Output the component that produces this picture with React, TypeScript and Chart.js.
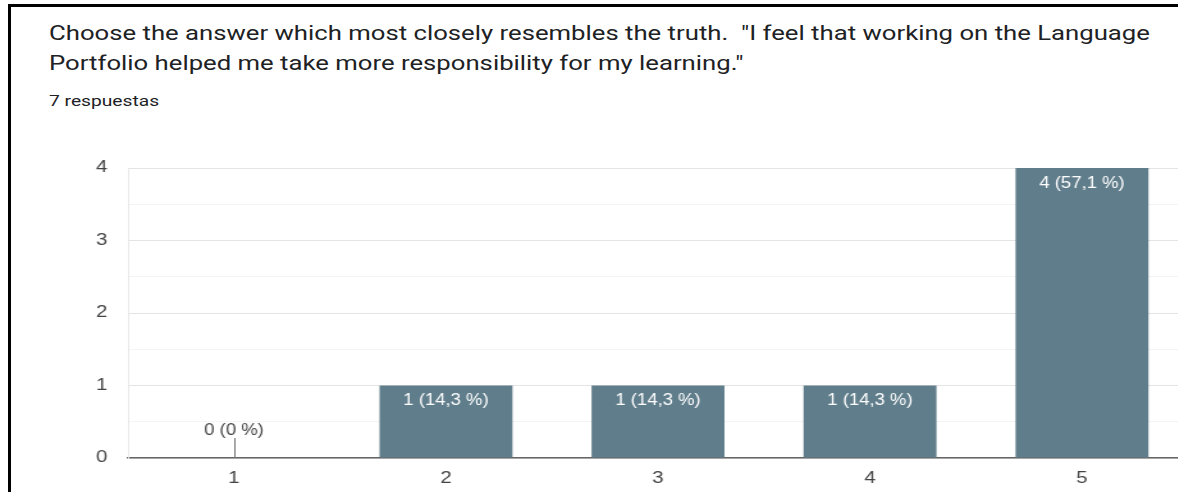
import React, { useEffect, useRef } from "react";
import { Chart, registerables } from "chart.js";

Chart.register(...registerables);

const titleLines = [
  'Choose the answer which most closely resembles the truth.  "I feel that working on the Language',
  'Portfolio helped me take more responsibility for my learning."',
];
const subtitle = "7 respuestas";
const categories = ["1", "2", "3", "4", "5"];
const counts = [0, 1, 1, 1, 4];
const percentLabels = ["0 %", "14,3 %", "14,3 %", "14,3 %", "57,1 %"];
const yTicks = [0, 1, 2, 3, 4];

const BAR = "#607d8b";
const K = 1.28; // horizontal stretch of the reference screenshot (chart)
const KT = 1.224; // horizontal stretch for the title
const KL = 0.85; // label compression inside the stretched canvas
const W = 1200;

const labelPlugin = {
  id: "barLabels",
  afterDatasetsDraw(chart: any) {
    const ctx = chart.ctx;
    const meta = chart.getDatasetMeta(0);
    ctx.save();
    ctx.font = '17px "Liberation Sans", Arial, sans-serif';
    ctx.textAlign = "center";
    ctx.textBaseline = "middle";
    const put = (text: string, x: number, y: number) => {
      ctx.save();
      ctx.translate(x, y);
      ctx.scale(KL, 1);
      ctx.fillText(text, 0, 0);
      ctx.restore();
    };
    meta.data.forEach((bar: any, i: number) => {
      const v = counts[i];
      const text = `${v} (${percentLabels[i]})`;
      if (v > 0) {
        ctx.fillStyle = "#ffffff";
        put(text, bar.x, bar.y + 15);
      } else {
        const base = chart.scales.y.getPixelForValue(0);
        ctx.strokeStyle = "#777";
        ctx.lineWidth = 1;
        ctx.beginPath();
        ctx.moveTo(Math.round(bar.x) + 0.5, base);
        ctx.lineTo(Math.round(bar.x) + 0.5, base - 20);
        ctx.stroke();
        ctx.fillStyle = "#444";
        put(text, bar.x, base - 28);
      }
    });
    ctx.restore();
  },
};

export default function App() {
  const ref = useRef<HTMLCanvasElement>(null);
  const innerW = Math.round(W / K);
  useEffect(() => {
    document.body.style.margin = "0";
    document.body.style.overflow = "hidden";
    const chart = new Chart(ref.current!, {
      type: "bar",
      data: {
        labels: categories,
        datasets: [
          {
            data: counts,
            backgroundColor: BAR,
            barPercentage: 0.627,
            categoryPercentage: 1,
          },
        ],
      },
      options: {
        animation: false,
        responsive: false,
        maintainAspectRatio: false,
        layout: { padding: { top: 28, right: innerW - 1188 / K, left: 0, bottom: 0 } },
        plugins: {
          legend: { display: false },
          tooltip: { enabled: false },
        },
        scales: {
          x: {
            grid: { display: false, drawTicks: false },
            border: { display: true, color: "#666", width: 1.5 },
            ticks: {
              color: "#444",
              padding: 11,
              font: { family: '"Liberation Sans", Arial, sans-serif', size: 16 },
            },
            afterFit(scale: any) {
              scale.height = 34;
            },
          },
          y: {
            min: 0,
            max: 4,
            afterBuildTicks(scale: any) {
              const t: any[] = [];
              for (let i = 0; i < yTicks.length; i++) {
                t.push({ value: yTicks[i] });
                if (i < yTicks.length - 1) t.push({ value: yTicks[i] + 0.5 });
              }
              scale.ticks = t;
            },
            grid: {
              drawTicks: false,
              color: (c: any) =>
                c.tick && Number.isInteger(c.tick.value) ? "#e4e4e4" : "#f4f4f4",
              lineWidth: 1,
            },
            border: { display: true, color: "#e8e8e8" },
            ticks: {
              color: "#444",
              padding: 16,
              font: { family: '"Liberation Sans", Arial, sans-serif', size: 16 },
              callback: (v: any) => (Number.isInteger(v) ? String(v) : ""),
            },
            afterFit(scale: any) {
              scale.width = 128 / K;
            },
          },
        },
      },
      plugins: [labelPlugin],
    });
    return () => chart.destroy();
  }, []);

  return (
    <div style={{ position: "relative", width: W, height: 492, overflow: "hidden", background: "#fff" }}>
      <div
        style={{
          position: "absolute",
          left: 8,
          top: 4,
          width: 1300,
          height: 600,
          borderLeft: "3px solid #000",
          borderTop: "3px solid #000",
        }}
      />
      <div
        style={{
          position: "absolute",
          left: 49,
          top: 18,
          fontFamily: "Roboto, sans-serif",
          fontSize: 21,
          lineHeight: "30px",
          color: "#202124",
          whiteSpace: "pre",
          transform: `scaleX(${KT})`,
          transformOrigin: "0 0",
        }}
      >
        {titleLines.map((l, i) => (
          <div key={i}>{l}</div>
        ))}
      </div>
      <div
        style={{
          position: "absolute",
          left: 49,
          top: 91,
          fontFamily: "Roboto, sans-serif",
          fontSize: 15,
          lineHeight: "20px",
          color: "#202124",
          whiteSpace: "pre",
          transform: `scaleX(${K})`,
          transformOrigin: "0 0",
        }}
      >
        {subtitle}
      </div>
      <div
        style={{
          position: "absolute",
          left: 0,
          top: 140,
          width: innerW,
          height: 352,
          transform: `scaleX(${K})`,
          transformOrigin: "0 0",
        }}
      >
        <canvas
          ref={ref}
          width={innerW}
          height={352}
          style={{ position: "absolute", left: 0, top: 0, width: innerW, height: 352 }}
        />
      </div>
    </div>
  );
}
